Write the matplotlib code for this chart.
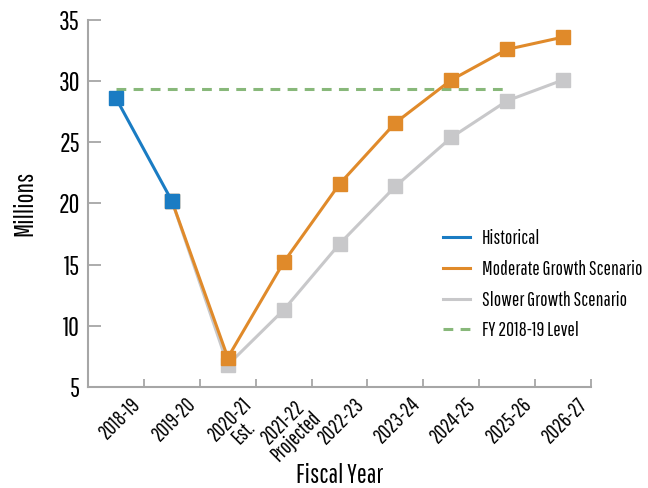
import matplotlib
matplotlib.use('Agg')
import matplotlib.pyplot as plt
from matplotlib.lines import Line2D
from matplotlib.transforms import ScaledTranslation
import numpy as np

plt.rcParams['font.family'] = ['Pathway Gothic One', 'Oswald', 'DejaVu Sans']

# data
years = ['2018-19', '2019-20', '2020-21\nEst.', '2021-22\nProjected', '2022-23',
         '2023-24', '2024-25', '2025-26', '2026-27']
historical = [28.6, 20.2]
moderate = [20.2, 7.4, 15.2, 21.6, 26.6, 30.1, 32.6, 33.6]
slower = [20.2, 6.8, 11.3, 16.7, 21.4, 25.4, 28.4, 30.1]
fy_level = 29.4
fy_span = (0, 7)

blue = '#1a7cc3'
orange = '#e08a2a'
gray = '#c8c8ca'
green = '#88b87a'
axis_gray = '#a6a6a6'

fig = plt.figure(figsize=(6.48, 4.88), dpi=100)
ax = fig.add_axes((0.136, 0.207, 0.776, 0.752))

x = np.arange(len(years))
ax.plot(x[1:], slower, color=gray, lw=2.2, marker='s', ms=9.5, zorder=2)
ax.plot(x[1:], moderate, color=orange, lw=2.2, marker='s', ms=9.5, zorder=3)
ax.plot(x[:2], historical, color=blue, lw=2.2, marker='s', ms=9.5, zorder=4)
ax.plot(list(fy_span), [fy_level, fy_level], color=green, lw=2.2,
        dashes=(3.2, 2.4), zorder=1)

ax.set_xlim(-0.5, len(years) - 0.5)
ax.set_ylim(5, 35)
ax.set_yticks(range(5, 36, 5))
ax.set_xticks(np.arange(-0.5, len(years), 1))
ax.set_xticklabels([])

# category labels, rotated, under each category
shift = ScaledTranslation(14 / 100, -7 / 100, fig.dpi_scale_trans)
for xi, lab in zip(x, years):
    ax.text(xi, 0, lab, transform=ax.get_xaxis_transform() + shift,
            rotation=45, ha='right', va='top', rotation_mode='anchor',
            multialignment='center', fontsize=15, linespacing=0.9,
            clip_on=False)

for s in ['top', 'right']:
    ax.spines[s].set_visible(False)
for s in ['left', 'bottom']:
    ax.spines[s].set_color(axis_gray)
    ax.spines[s].set_linewidth(1.5)

ax.tick_params(axis='y', direction='in', length=9, width=1.3, color=axis_gray,
               labelsize=19, pad=6)
ax.tick_params(axis='x', which='major', direction='in', length=6, width=1.3,
               color=axis_gray)

ax.set_ylabel('Millions', fontsize=19)
ax.yaxis.set_label_coords(-0.1, 0.5)
ax.set_xlabel('Fiscal Year', fontsize=19)
ax.xaxis.set_label_coords(0.5, -0.206)

handles = [
    Line2D([], [], color=blue, lw=2.2),
    Line2D([], [], color=orange, lw=2.2),
    Line2D([], [], color=gray, lw=2.2),
    Line2D([], [], color=green, lw=2.2, dashes=(3.2, 2.4)),
]
labels = ['Historical', 'Moderate Growth Scenario', 'Slower Growth Scenario',
          'FY 2018-19 Level']
ax.legend(handles, labels, loc='upper left', bbox_to_anchor=(0.706, 0.43),
          frameon=False, fontsize=14, handlelength=1.4, handletextpad=0.6,
          labelspacing=0.6, borderaxespad=0, borderpad=0)

fig.savefig('out.png', dpi=100)
